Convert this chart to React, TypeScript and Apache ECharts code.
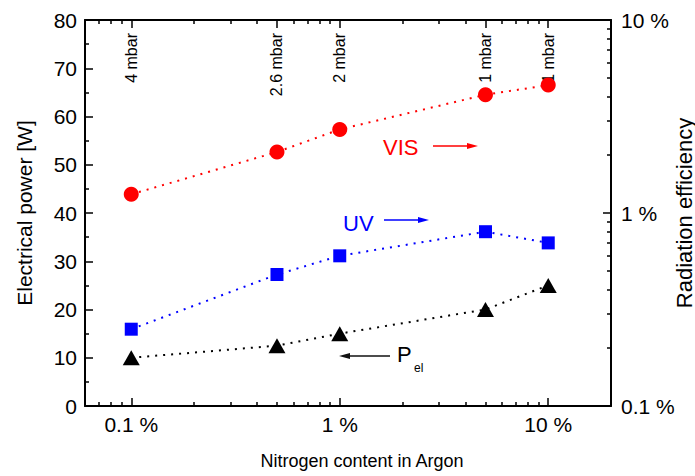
import React, { useEffect, useRef } from 'react';
import * as echarts from 'echarts';

// ---- data ----
const nitrogenPct = [0.1, 0.5, 1, 5, 10];
const pressureLabels = ['4 mbar', '2.6 mbar', '2 mbar', '1 mbar', '1 mbar'];
const visEfficiencyPct = [1.25, 2.07, 2.71, 4.1, 4.6];
const uvEfficiencyPct = [0.25, 0.48, 0.6, 0.8, 0.7];
const electricalPowerW = [10, 12.5, 15, 20, 25];

const xMajorTicks = [0.1, 1, 10];
const xMinorTicks = [0.06, 0.07, 0.08, 0.09, 0.2, 0.3, 0.4, 0.5, 0.6, 0.7, 0.8, 0.9, 2, 3, 4, 5, 6, 7, 8, 9, 20];
const topMinorTicks = [0.06, 0.07, 0.08, 0.09, 0.2, 0.3, 0.4, 0.6, 0.7, 0.8, 0.9, 2, 3, 4, 6, 7, 8, 9, 20];
const effMajorTicks = [0.1, 1, 10];
const effMinorTicks = [0.2, 0.3, 0.4, 0.5, 0.6, 0.7, 0.8, 0.9, 2, 3, 4, 5, 6, 7, 8, 9];

const FONT = "'Liberation Sans', Arial, Helvetica, sans-serif";

export default function App() {
  const ref = useRef<HTMLDivElement>(null);
  useEffect(() => {
    const chart = echarts.init(ref.current!, null, { renderer: 'svg' });
    const pairs = (ys: number[]) => nitrogenPct.map((x, i) => [x, ys[i]]);
    const nearestIdx = (v: number, arr: number[]) => {
      let b = 0;
      arr.forEach((a, i) => {
        if (Math.abs(Math.log10(a) - Math.log10(v)) < Math.abs(Math.log10(arr[b]) - Math.log10(v))) b = i;
      });
      return b;
    };
    const fmtPct = (v: number) => `${parseFloat(Number(v).toPrecision(3))} %`;
    const tickStyle = { color: '#000', width: 1.5 };
    const axisLine = { show: true, lineStyle: { color: '#000', width: 2 } };
    const labelBase = { color: '#000', fontSize: 21, fontFamily: FONT };
    const xBase: any = { type: 'log', logBase: 10, min: 0.06, max: 20, splitLine: { show: false }, gridIndex: 0 };
    const effBase: any = { type: 'log', logBase: 10, min: 0.1, max: 10, splitLine: { show: false }, position: 'right' };

    const arrow = (x1: number, x2: number, y: number, color: string) => {
      const dir = Math.sign(x2 - x1);
      return {
        type: 'group',
        children: [
          { type: 'line', shape: { x1, y1: y, x2: x2 - dir * 8, y2: y }, style: { stroke: color, lineWidth: 1.3 } },
          {
            type: 'polygon',
            shape: { points: [[x2, y], [x2 - dir * 11, y - 3], [x2 - dir * 11, y + 3]] },
            style: { fill: color },
          },
        ],
      };
    };

    chart.setOption({
      animation: false,
      grid: { left: 85, right: 84, top: 20, bottom: 70, containLabel: false, outerBoundsMode: 'none' },
      xAxis: [
        {
          ...xBase,
          position: 'bottom',
          axisLine,
          axisTick: { show: true, inside: true, length: 8, customValues: xMajorTicks, lineStyle: tickStyle },
          axisLabel: { ...labelBase, show: true, customValues: xMajorTicks, formatter: fmtPct, margin: 8 },
          name: 'Nitrogen content in Argon',
          nameLocation: 'middle',
          nameGap: 46,
          nameTextStyle: { color: '#000', fontSize: 18, fontFamily: FONT, padding: [0, 0, 0, 28] },
        },
        {
          ...xBase,
          position: 'bottom',
          axisLine: { show: false },
          axisTick: { show: true, inside: true, length: 4, customValues: xMinorTicks, lineStyle: tickStyle },
          axisLabel: { show: false },
        },
        {
          ...xBase,
          position: 'top',
          axisLine,
          axisTick: { show: true, inside: true, length: 8, customValues: nitrogenPct, lineStyle: tickStyle },
          axisLabel: {
            show: true,
            inside: true,
            rotate: -90,
            margin: 13,
            customValues: nitrogenPct,
            color: '#000',
            fontSize: 16,
            fontFamily: FONT,
            formatter: (v: number) => pressureLabels[nearestIdx(v, nitrogenPct)],
          },
        },
        {
          ...xBase,
          position: 'top',
          axisLine: { show: false },
          axisTick: { show: true, inside: true, length: 4, customValues: topMinorTicks, lineStyle: tickStyle },
          axisLabel: { show: false },
        },
      ],
      yAxis: [
        {
          type: 'value',
          position: 'left',
          min: 0,
          max: 80,
          interval: 10,
          splitLine: { show: false },
          axisLine,
          axisTick: { show: true, inside: true, length: 8, lineStyle: tickStyle },
          minorTick: { show: true, splitNumber: 2, length: 4, lineStyle: tickStyle },
          axisLabel: { ...labelBase, margin: 8 },
          name: 'Electrical power [W]',
          nameLocation: 'middle',
          nameRotate: 90,
          nameGap: 50,
          nameTextStyle: { color: '#000', fontSize: 21, fontFamily: FONT },
        },
        {
          ...effBase,
          axisLine,
          axisTick: { show: true, inside: true, length: 8, customValues: effMajorTicks, lineStyle: tickStyle },
          axisLabel: { ...labelBase, customValues: effMajorTicks, formatter: fmtPct, margin: 10 },
          name: 'Radiation efficiency',
          nameLocation: 'middle',
          nameRotate: 90,
          nameGap: 62,
          nameMoveOverlap: false,
          nameTextStyle: { color: '#000', fontSize: 22, fontFamily: FONT },
        },
        {
          ...effBase,
          axisLine: { show: false },
          axisTick: { show: true, inside: true, length: 4, customValues: effMinorTicks, lineStyle: tickStyle },
          axisLabel: { show: false },
        },
      ],
      series: [
        {
          name: 'Pel',
          type: 'line',
          xAxisIndex: 0,
          yAxisIndex: 0,
          data: pairs(electricalPowerW),
          symbol: 'triangle',
          symbolSize: [17, 15],
          itemStyle: { color: '#000' },
          lineStyle: { color: '#000', width: 2, type: [2, 6] },
        },
        {
          name: 'UV',
          type: 'line',
          xAxisIndex: 0,
          yAxisIndex: 1,
          data: pairs(uvEfficiencyPct),
          symbol: 'rect',
          symbolSize: 13,
          itemStyle: { color: '#0000ff' },
          lineStyle: { color: '#0000ff', width: 2, type: [2, 6] },
        },
        {
          name: 'VIS',
          type: 'line',
          xAxisIndex: 0,
          yAxisIndex: 1,
          data: pairs(visEfficiencyPct),
          symbol: 'circle',
          symbolSize: 15,
          itemStyle: { color: '#ff0000' },
          lineStyle: { color: '#ff0000', width: 2, type: [2, 6] },
        },
      ],
      graphic: [
        { type: 'text', left: 383, top: 136, style: { text: 'VIS', fill: '#ff0000', fontSize: 22, fontFamily: FONT } },
        arrow(433, 478, 146, '#ff0000'),
        { type: 'text', left: 343, top: 212, style: { text: 'UV', fill: '#0000ff', fontSize: 22, fontFamily: FONT } },
        arrow(384, 429, 220, '#0000ff'),
        arrow(390, 339, 356, '#111'),
        { type: 'text', left: 397, top: 343, style: { text: 'P', fill: '#000', fontSize: 22, fontFamily: FONT } },
        { type: 'text', left: 414, top: 362, style: { text: 'el', fill: '#000', fontSize: 12, fontFamily: FONT } },
      ],
    });
    return () => chart.dispose();
  }, []);
  return <div ref={ref} style={{ position: 'fixed', left: 0, top: 0, width: 695, height: 476, background: '#fff' }} />;
}
